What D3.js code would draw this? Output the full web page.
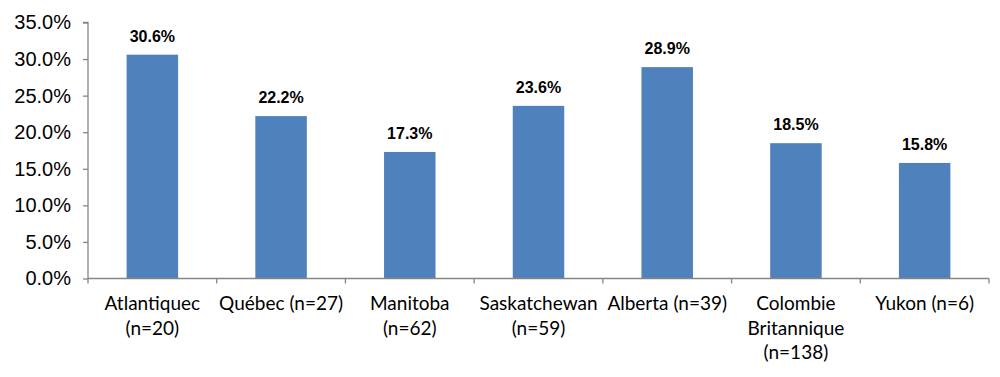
<!DOCTYPE html>
<html><head><meta charset="utf-8">
<script src="https://cdn.jsdelivr.net/npm/d3@7"></script>
<style>body{margin:0;background:#fff}svg{display:block}</style>
</head><body>
<svg id="c" width="1000" height="377"></svg>
<script>
const categories = ["Atlantiquec\n(n=20)", "Québec (n=27)", "Manitoba\n(n=62)", "Saskatchewan\n(n=59)", "Alberta (n=39)", "Colombie\nBritannique\n(n=138)", "Yukon (n=6)"];
const values = [30.6, 22.2, 17.3, 23.6, 28.9, 18.5, 15.8];
const yTicks = [0, 5, 10, 15, 20, 25, 30, 35];

const svg = d3.select("#c");
const x = d3.scaleBand().domain(categories).range([88, 989]).paddingInner(0.6).paddingOuter(0.3);
const y = d3.scaleLinear().domain([0, 35]).range([278.5, 22.5]);
const axisColor = "#868686";

svg.selectAll("rect.bar").data(values).join("rect")
  .attr("class", "bar")
  .attr("x", (d, i) => x(categories[i]))
  .attr("width", x.bandwidth())
  .attr("y", d => y(d))
  .attr("height", d => y(0) - y(d))
  .attr("fill", "#4F81BD");

svg.selectAll("text.val").data(values).join("text")
  .attr("class", "val")
  .attr("x", (d, i) => x(categories[i]) + x.bandwidth() / 2)
  .attr("y", d => y(d) - 13)
  .attr("text-anchor", "middle")
  .attr("font-family", "Liberation Sans, Arial, sans-serif")
  .attr("font-weight", "bold")
  .attr("font-size", 16)
  .attr("fill", "#000")
  .text(d => d.toFixed(1) + "%");

const yAxis = svg.append("g").attr("transform", "translate(88,0)")
  .call(d3.axisLeft(y).tickValues(yTicks).tickFormat(d => d.toFixed(1) + "%").tickSize(5).tickPadding(12));
yAxis.selectAll("path,line").attr("stroke", axisColor).attr("stroke-width", 1.3);
yAxis.select("path.domain").attr("d", `M-5,${y(35)}H0V${y(0)}`);
yAxis.selectAll("text").attr("font-family", "Liberation Sans, Arial, sans-serif").attr("font-size", 20).attr("fill", "#000");

const bounds = [88].concat(categories.map(c => x(c) - x.step() * x.paddingInner() / 2 + x.step()));
const xAxis = svg.append("g").attr("transform", `translate(0,${y(0)})`);
xAxis.append("line").attr("x1", 88).attr("x2", 989).attr("y1", 0).attr("y2", 0).attr("stroke", axisColor).attr("stroke-width", 1.3);
xAxis.selectAll("line.tk").data(bounds).join("line").attr("class", "tk")
  .attr("x1", d => d).attr("x2", d => d).attr("y1", 0).attr("y2", 5)
  .attr("stroke", axisColor).attr("stroke-width", 1.3);

const lab = svg.selectAll("text.cat").data(categories).join("text")
  .attr("class", "cat")
  .attr("text-anchor", "middle")
  .attr("font-family", "Lato, Open Sans, sans-serif")
  .attr("font-size", 19)
  .attr("fill", "#000");
lab.each(function (c) {
  const t = d3.select(this);
  c.split("\n").forEach((line, j) => {
    t.append("tspan").attr("x", x(c) + x.bandwidth() / 2).attr("y", 310 + j * 24.5).text(line);
  });
});
</script>
</body></html>
